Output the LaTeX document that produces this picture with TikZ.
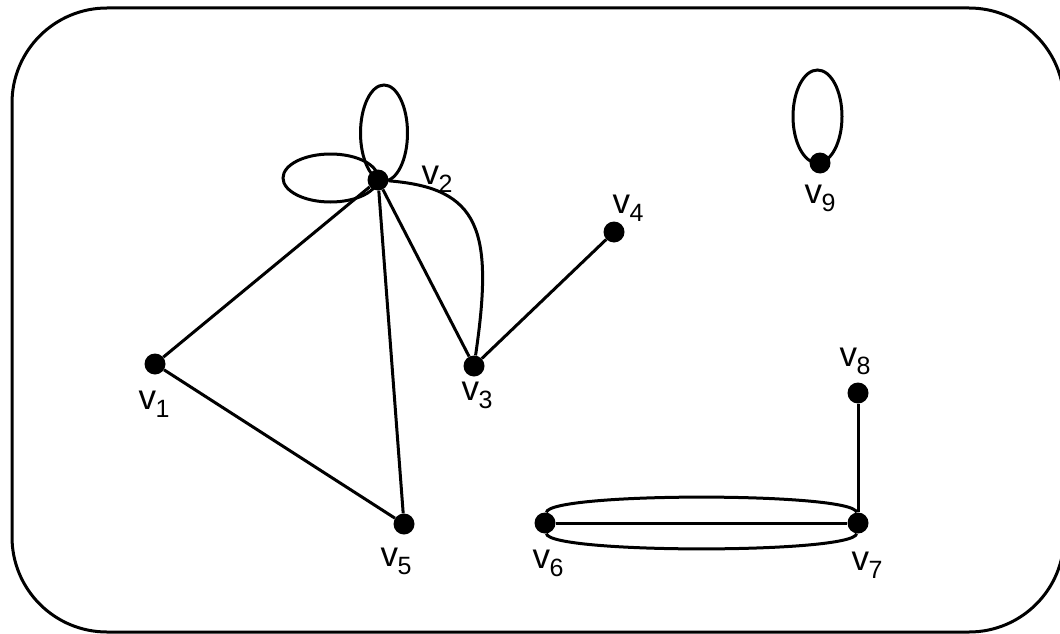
\documentclass[tikz,border=0pt]{standalone}
\usepackage{fontspec}
\setmainfont{Liberation Sans}
\newcommand{\vlab}[1]{v\kern-0.5pt\raisebox{-8pt}{\fontsize{25}{25}\selectfont #1}}
\begin{document}
\begin{tikzpicture}[x=1pt,y=-1pt,
  vtx/.style={circle,fill=black,inner sep=0pt,minimum size=21pt},
  edge/.style={line width=3pt},
  lab/.style={inner sep=0pt,font=\fontsize{35}{36}\selectfont}]
\useasboundingbox (0,0) rectangle (1060,634);
\draw[line width=3pt, rounded corners=95pt] (12,8) rectangle (1064,632);
% vertices
\node[vtx] (v1) at (155,364) {};
\node[vtx] (v2) at (378,180) {};
\node[vtx] (v3) at (474,366) {};
\node[vtx] (v4) at (614,232) {};
\node[vtx] (v5) at (404,524) {};
\node[vtx] (v6) at (545,523) {};
\node[vtx] (v7) at (858,523) {};
\node[vtx] (v8) at (858,393) {};
\node[vtx] (v9) at (820,163) {};
% edges
\draw[edge] (v1) -- (v2);
\draw[edge] (v1) -- (v5);
\draw[edge] (v2) -- (v5);
\draw[edge] (v2) -- (v3);
\draw[edge] (v2) .. controls (480,188) and (494,230) .. (v3);
\draw[edge] (v3) -- (v4);
\draw[edge] (v8) -- (v7);
\draw[edge] (v6) -- (v7);
\draw[edge] (v6) .. controls +(4,-31) and +(-4,-31) .. (v7);
\draw[edge] (v6) .. controls +(4,31) and +(-4,31) .. (v7);
% loops
\draw[edge] (v2.center) ++(6,-47) ellipse [x radius=23.5, y radius=48];
\draw[edge] (v2.center) ++(-47.5,-2) ellipse [x radius=47.5, y radius=24];
\draw[edge] (v9.center) ++(-2.5,-46.5) ellipse [x radius=24.5, y radius=46.5];
% labels
\node[lab] (l1) at (154,404) {\vlab{1}};
\node[lab] (l2) at (437,179) {\vlab{2}};
\node[lab] (l3) at (477,395) {\vlab{3}};
\node[lab] (l4) at (628,208) {\vlab{4}};
\node[lab] (l5) at (396,561) {\vlab{5}};
\node[lab] (l6) at (548,563) {\vlab{6}};
\node[lab] (l7) at (867,565) {\vlab{7}};
\node[lab] (l8) at (855,361) {\vlab{8}};
\node[lab] (l9) at (820,198) {\vlab{9}};
\end{tikzpicture}
\end{document}
